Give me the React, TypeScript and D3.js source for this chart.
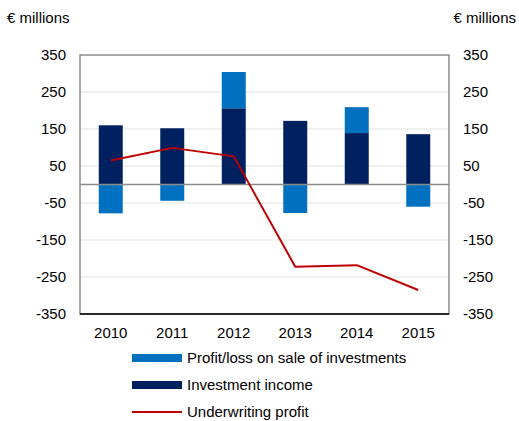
import * as d3 from 'd3';

const years = ['2010', '2011', '2012', '2013', '2014', '2015'];
const investmentIncome = [160, 152, 206, 172, 139, 136];
const saleProfitLoss = [-78, -44, 98, -77, 70, -60];
const underwriting = [65, 99, 76, -222, -218, -285];
const yTicks = [350, 250, 150, 50, -50, -150, -250, -350];

const W = 519;
const H = 421;
const plot = { left: 80, right: 449, top: 55, bottom: 314 };
const font = 'Liberation Sans, Arial, sans-serif';
const FS = 15;

const C_SALE = '#0070C0';
const C_INV = '#002060';
const C_LINE = '#C00000';

export default function App() {
  const x = d3.scaleBand<string>().domain(years).range([plot.left, plot.right]).paddingInner(0.61).paddingOuter(0.305);
  const y = d3.scaleLinear().domain([-350, 350]).range([plot.bottom, plot.top]);

  const line = d3
    .line<number>()
    .x((_, i) => (x(years[i]) as number) + x.bandwidth() / 2)
    .y((d) => y(d));

  // stacked segments: positive values stack above investment income, negatives go below zero
  const bars: { year: string; y0: number; y1: number; color: string }[] = [];
  years.forEach((yr, i) => {
    bars.push({ year: yr, y0: 0, y1: investmentIncome[i], color: C_INV });
    const s = saleProfitLoss[i];
    if (s >= 0) bars.push({ year: yr, y0: investmentIncome[i], y1: investmentIncome[i] + s, color: C_SALE });
    else bars.push({ year: yr, y0: 0, y1: s, color: C_SALE });
  });

  const legend = [
    { label: 'Profit/loss on sale of investments', color: C_SALE, kind: 'bar' },
    { label: 'Investment income', color: C_INV, kind: 'bar' },
    { label: 'Underwriting profit', color: C_LINE, kind: 'line' },
  ];

  return (
    <svg width={W} height={H} style={{ position: 'absolute', left: 0, top: 0, background: '#fff' }} fontFamily={font}>
      <text x={7} y={23} fontSize={FS} fill="#000">€ millions</text>
      <text x={516} y={23} fontSize={FS} fill="#000" textAnchor="end">€ millions</text>

      {yTicks.slice(1, -1).map((t) => (
        <line key={'g' + t} x1={plot.left} x2={plot.right} y1={y(t)} y2={y(t)} stroke="#e3e3e3" strokeWidth={1} />
      ))}

      {bars.map((b, i) => (
        <rect
          key={i}
          x={x(b.year)}
          width={x.bandwidth()}
          y={y(Math.max(b.y0, b.y1))}
          height={Math.abs(y(b.y0) - y(b.y1))}
          fill={b.color}
        />
      ))}

      <line x1={plot.left} x2={plot.right} y1={y(0)} y2={y(0)} stroke="#8c8c8c" strokeWidth={1.5} />

      <path d={line(underwriting) || ''} fill="none" stroke={C_LINE} strokeWidth={2} strokeLinejoin="round" />

      <rect x={plot.left} y={plot.top} width={plot.right - plot.left} height={plot.bottom - plot.top} fill="none" stroke="#8c8c8c" strokeWidth={1.5} />
      <line x1={plot.left} x2={plot.right} y1={plot.bottom} y2={plot.bottom} stroke="#000" strokeWidth={1.5} />

      {yTicks.map((t) => (
        <g key={'t' + t} fontSize={FS} fill="#000">
          <text x={66} y={y(t)} dy="0.35em" textAnchor="end">{t}</text>
          <text x={463} y={y(t)} dy="0.35em">{t}</text>
        </g>
      ))}

      {years.map((yr) => (
        <text key={yr} x={(x(yr) as number) + x.bandwidth() / 2} y={333} fontSize={FS} textAnchor="middle" dy="0.35em">
          {yr}
        </text>
      ))}

      {legend.map((l, i) => {
        const cy = 358 + i * 27;
        return (
          <g key={l.label}>
            {l.kind === 'bar' ? (
              <rect x={132} y={cy - 4} width={50} height={8} fill={l.color} />
            ) : (
              <line x1={132} x2={182} y1={cy} y2={cy} stroke={l.color} strokeWidth={2} />
            )}
            <text x={187} y={cy} dy="0.35em" fontSize={FS}>{l.label}</text>
          </g>
        );
      })}
    </svg>
  );
}
